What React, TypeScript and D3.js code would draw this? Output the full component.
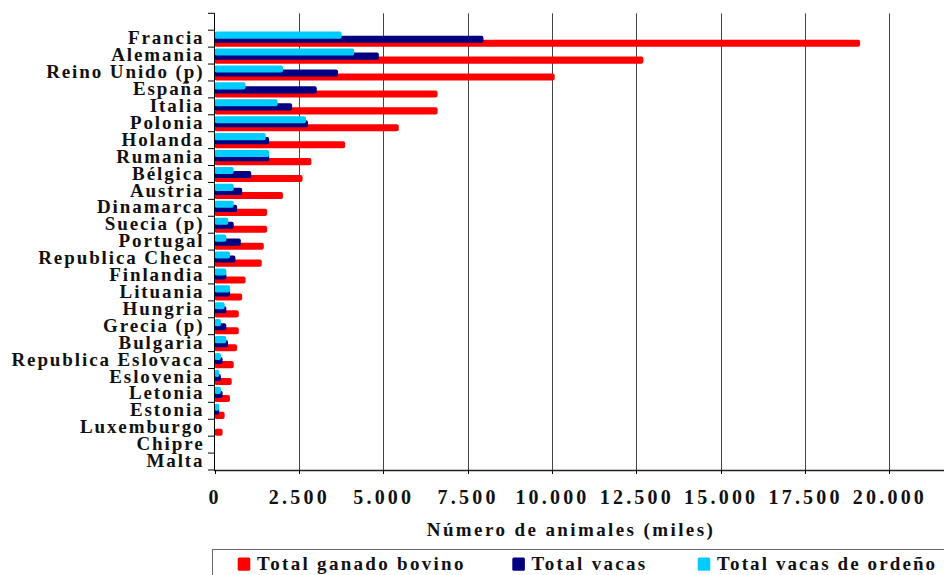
import React from "react";
import * as d3 from "d3";

const categories: string[] = [
  "", "Francia", "Alemania", "Reino Unido (p)", "España", "Italia", "Polonia", "Holanda",
  "Rumania", "Bélgica", "Austria", "Dinamarca", "Suecia (p)", "Portugal", "Republica Checa",
  "Finlandia", "Lituania", "Hungria", "Grecia (p)", "Bulgaria", "Republica Eslovaca",
  "Eslovenia", "Letonia", "Estonia", "Luxemburgo", "Chipre", "Malta",
];

const totalBovino: number[] = [
  0, 19130, 12710, 10080, 6610, 6610, 5460, 3870, 2870, 2610, 2030, 1560, 1560, 1460, 1400,
  920, 820, 720, 720, 670, 570, 510, 460, 300, 240, 0, 0,
];
const totalVacas: number[] = [
  0, 7970, 4870, 3660, 3030, 2300, 2770, 1620, 1620, 1090, 820, 670, 570, 780, 620,
  350, 460, 350, 350, 400, 240, 190, 240, 140, 0, 0, 0,
];
const vacasOrdeno: number[] = [
  0, 3770, 4140, 2030, 920, 1870, 2710, 1520, 1620, 570, 570, 570, 410, 350, 460,
  350, 460, 300, 190, 350, 190, 140, 190, 140, 0, 0, 0,
];

const xTicks: number[] = [0, 2500, 5000, 7500, 10000, 12500, 15000, 17500, 20000];
const xTickLabels: string[] = ["0", "2.500", "5.000", "7.500", "10.000", "12.500", "15.000", "17.500", "20.000"];

const seriesNames: string[] = ["Total ganado bovino", "Total vacas", "Total vacas de ordeño"];
const seriesColors: string[] = ["#ff0000", "#000080", "#00ccff"];

const W = 944;
const H = 575;
const FONT = "'Liberation Serif', 'DejaVu Serif', serif";

export default function App() {
  const left = 214.5;
  const top = 13.3;
  const bottom = 470;
  const x = d3.scaleLinear().domain([0, 22500]).range([left, left + 9 * 84.37]);
  const y = d3.scaleBand<string>().domain(categories.map((c, i) => String(i))).range([top, bottom]).padding(0);
  const bw = y.bandwidth();
  const barH = bw * 0.42;
  const offsets = [0.56, 0.32, 0.08];
  const seriesData = [totalBovino, totalVacas, vacasOrdeno];

  const boundaries = d3.range(categories.length + 1).map((i) => top + i * bw);

  return (
    <svg
      width={W}
      height={H}
      style={{ position: "absolute", left: 0, top: 0, background: "#fff" }}
      fontFamily={FONT}
    >
      {/* gridlines */}
      {xTicks.slice(1).concat([22500]).map((t) => (
        <line key={"g" + t} x1={Math.round(x(t)) + 0.5} x2={Math.round(x(t)) + 0.5} y1={top} y2={bottom} stroke="#444" strokeWidth={1} />
      ))}
      {/* bars */}
      {seriesData.map((vals, s) => (
        <g key={"s" + s} fill={seriesColors[s]}>
          {vals.map((v, i) =>
            v > 0 ? (
              <rect
                key={i}
                x={x(0)}
                y={(y(String(i)) as number) + bw * offsets[s]}
                width={x(v) - x(0)}
                height={barH}
                rx={2}
                ry={2}
              />
            ) : null
          )}
        </g>
      ))}
      {/* y axis */}
      <line x1={214.5} x2={214.5} y1={top} y2={bottom} stroke="#000" strokeWidth={1} />
      {boundaries.map((b, i) => (
        <line key={"yt" + i} x1={208} x2={214.5} y1={b} y2={b} stroke="#000" strokeWidth={1} />
      ))}
      {categories.map((c, i) => (
        <text
          key={"yl" + i}
          x={204.5}
          y={(y(String(i)) as number) + bw / 2 + 5.6}
          textAnchor="end"
          fontSize={19}
          fontWeight="bold"
          letterSpacing={1.9}
          fill="#111"
        >
          {c}
        </text>
      ))}
      {/* x axis */}
      <line x1={214} x2={W} y1={470.5} y2={470.5} stroke="#222" strokeWidth={1.5} />
      {xTicks.map((t) => (
        <line key={"xt" + t} x1={Math.round(x(t)) + 0.5} x2={Math.round(x(t)) + 0.5} y1={470} y2={474} stroke="#000" strokeWidth={1} />
      ))}
      {xTicks.map((t, i) => (
        <text key={"xl" + t} x={x(t) + 0.5} y={504} textAnchor="middle" fontSize={20} fontWeight="bold" letterSpacing={3.2} fill="#111">
          {xTickLabels[i]}
        </text>
      ))}
      <text x={571} y={536} textAnchor="middle" fontSize={19} fontWeight="bold" letterSpacing={2.4} fill="#111">
        Número de animales (miles)
      </text>
      {/* legend */}
      <rect x={212.5} y={549.5} width={800} height={60} fill="none" stroke="#666" strokeWidth={1} />
      {[237.7, 512.3, 697.7].map((lx, i) => (
        <g key={"lg" + i}>
          <rect x={lx} y={557.5} width={12.6} height={13.2} fill={seriesColors[i]} rx={1.5} />
          <text x={lx + 19.3} y={569.5} fontSize={19} fontWeight="bold" letterSpacing={i === 2 ? 2.1 : 2.3} fill="#111">
            {seriesNames[i]}
          </text>
        </g>
      ))}
    </svg>
  );
}
